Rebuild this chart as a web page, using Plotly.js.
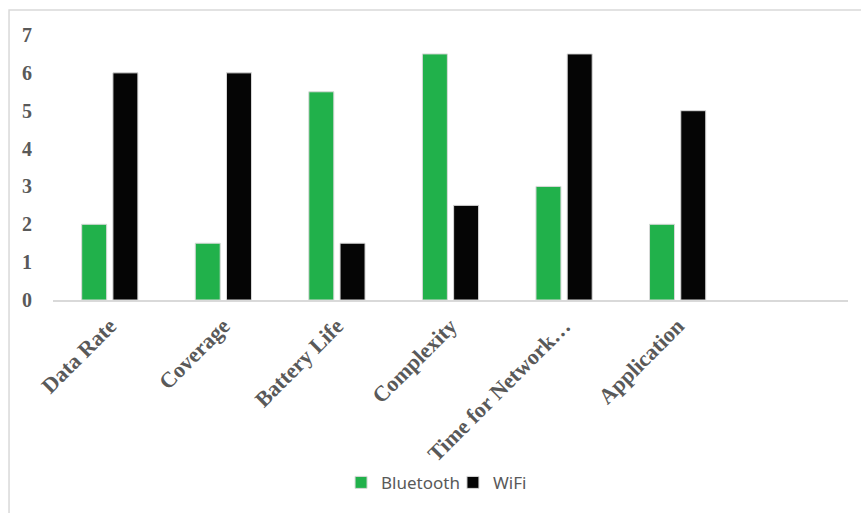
<!DOCTYPE html>
<html>
<head>
<meta charset="utf-8">
<script src="https://cdn.plot.ly/plotly-3.0.1.min.js"></script>
<style>html,body{margin:0;padding:0;background:#fff;}#chart{width:861px;height:513px;}</style>
</head>
<body>
<div id="chart"></div>
<script>
const categories = ["Data Rate", "Coverage", "Battery Life", "Complexity", "Time for Network…", "Application"];
const bluetooth = [2, 1.5, 5.5, 6.5, 3, 2];
const wifi = [6, 6, 1.5, 2.5, 6.5, 5];
const seriesNames = ["Bluetooth", "WiFi"];

const traces = [
  {type: 'bar', name: seriesNames[0], x: categories, y: bluetooth,
   marker: {color: '#21B14B', line: {color: '#d9d9d9', width: 1}}},
  {type: 'bar', name: seriesNames[1], x: categories, y: wifi,
   marker: {color: '#050505', line: {color: '#d9d9d9', width: 1}}}
];

const layout = {
  width: 861, height: 513,
  margin: {l: 53, r: 13, t: 35, b: 213},
  paper_bgcolor: '#ffffff', plot_bgcolor: '#ffffff',
  barmode: 'group', bargap: 0.45, bargroupgap: 0.2,
  showlegend: true,
  legend: {orientation: 'h', x: 0.49, xanchor: 'center', y: -0.69, yanchor: 'middle',
           font: {family: 'Noto Sans, sans-serif', size: 17, color: '#595959'},
           itemwidth: 30, indentation: -12, traceorder: 'normal'},
  xaxis: {type: 'category', range: [-0.5, 6.5], tickangle: -45,
          tickfont: {family: 'Liberation Serif, serif', size: 22, color: '#595959', weight: 'bold'},
          showline: true, linecolor: '#d9d9d9', linewidth: 1.5, showgrid: false, zeroline: false,
          ticks: 'outside', ticklen: 3, tickcolor: 'rgba(0,0,0,0)', fixedrange: true},
  yaxis: {range: [0, 7], dtick: 1, tick0: 0,
          tickfont: {family: 'Liberation Serif, serif', size: 20, color: '#595959', weight: 'bold'},
          showline: false, showgrid: false, zeroline: false,
          ticks: 'outside', ticklen: 16, tickcolor: 'rgba(0,0,0,0)', fixedrange: true},
  shapes: [{type: 'rect', xref: 'paper', yref: 'paper',
            x0: -0.0553, x1: 1.05, y0: -0.85, y1: 1.0943,
            line: {color: '#d9d9d9', width: 1.5}, fillcolor: 'rgba(0,0,0,0)', layer: 'below'}]
};

Plotly.newPlot('chart', traces, layout, {displayModeBar: false, staticPlot: true});
</script>
</body>
</html>
